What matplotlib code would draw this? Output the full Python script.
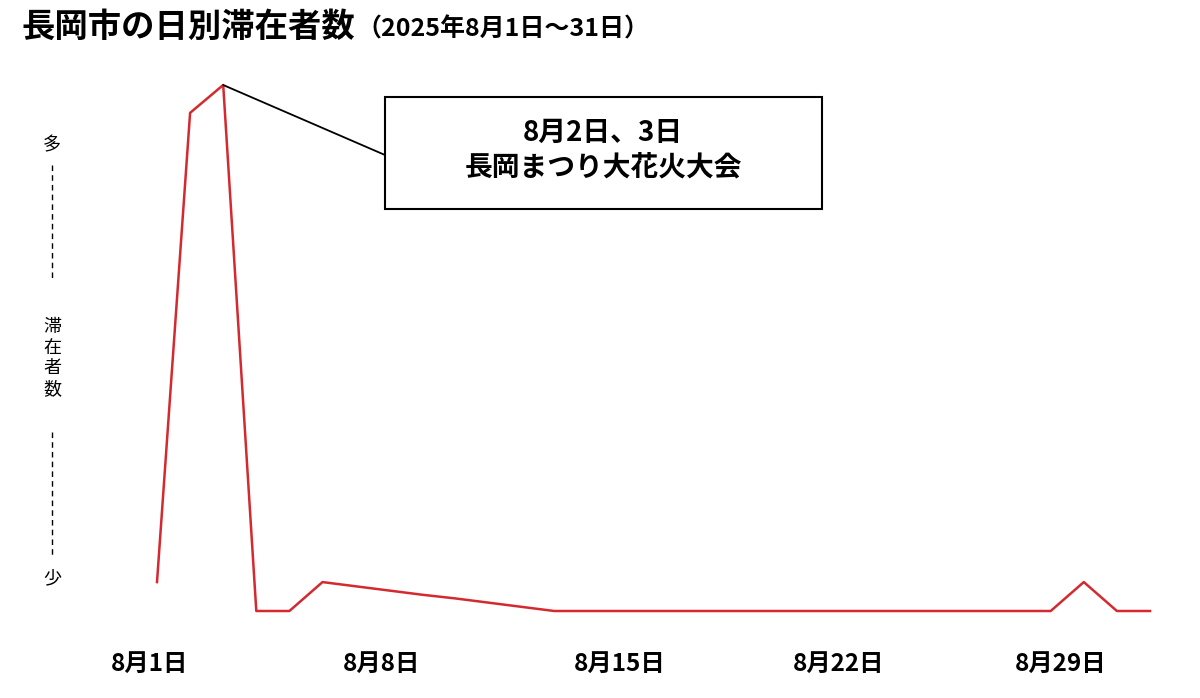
import matplotlib.pyplot as plt
from matplotlib.lines import Line2D
from matplotlib.patches import Rectangle

plt.rcParams['font.family'] = ['Noto Sans CJK JP', 'DejaVu Sans']

# daily stay index (relative, 0 = lowest level, 100 = peak)
days = list(range(1, 32))
visitors = [5.5, 94.7, 100, 0, 0, 5.5, 4.7, 3.9, 3.1, 2.4, 1.6, 0.8, 0,
            0, 0, 0, 0, 0, 0, 0, 0, 0, 0, 0, 0, 0, 0, 0, 5.5, 0, 0]
tick_pos = [0.76, 7.77, 14.99, 21.6, 28.31]
tick_labels = ['8月1日', '8月8日', '8月15日', '8月22日', '8月29日']
note_lines = ['8月2日、3日', '長岡まつり大花火大会']

W, H = 1200, 698


def fx(px):
    return px / W


def fy(py):
    return 1 - py / H


fig = plt.figure(figsize=(12, 6.98), dpi=100)
ax = fig.add_axes([fx(157), fy(611), fx(1150 - 157), (611 - 85) / H])
ax.plot(days, visitors, color='#d42a2f', lw=1.8, clip_on=False)
for s in ax.spines.values():
    s.set_visible(False)
ax.set_yticks([])
ax.set_xticks([])
ax.set_xlim(1, 31)
ax.set_ylim(0, 100)

# date labels (first one sits left of day 1, so not as real ticks)
for pos, lab in zip(tick_pos, tick_labels):
    ax.text(pos, -(664 - 611) / (611 - 85), lab, transform=ax.get_xaxis_transform(),
            fontsize=17.5, fontweight='bold', ha='center', va='center',
            clip_on=False)

# title
fig.text(fx(21), fy(27), '長岡市の日別滞在者数', fontsize=24, fontweight='bold',
         va='center', ha='left')
fig.text(fx(356), fy(29), '（2025年8月1日～31日）', fontsize=18, fontweight='bold',
         va='center', ha='left')

# y axis label
fig.text(fx(52), fy(145), '多', fontsize=13, ha='center', va='center')
fig.text(fx(52), fy(358), '滞\n在\n者\n数', fontsize=13, ha='center', va='center',
         linespacing=1.2)
fig.text(fx(52), fy(578), '少', fontsize=13, ha='center', va='center')
for y0, y1 in [(165, 280), (432, 555)]:
    fig.add_artist(Line2D([fx(52), fx(52)], [fy(y0), fy(y1)], color='black',
                          lw=1, ls=(0, (4, 3))))

# annotation box
fig.add_artist(Rectangle((fx(385), fy(209)), fx(822 - 385), (209 - 97) / H,
                         fill=False, edgecolor='black', lw=1.5))
fig.text(fx(603), fy(150), '\n'.join(note_lines), fontsize=20, fontweight='bold',
         ha='center', va='center', linespacing=1.3)
ax.annotate('', xy=(3, max(visitors)), xytext=(fx(385), fy(155)),
            textcoords='figure fraction',
            arrowprops=dict(arrowstyle='-', color='black', lw=1.3,
                            shrinkA=0, shrinkB=0))

fig.savefig('out.png', dpi=100, facecolor='white')
